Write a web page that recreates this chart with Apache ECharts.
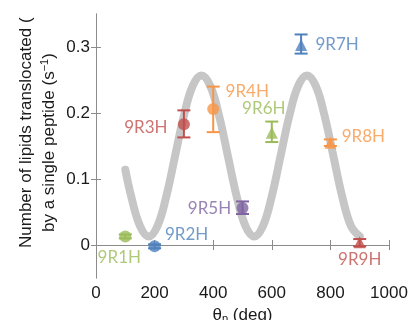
<!DOCTYPE html>
<html>
<head>
<meta charset="utf-8">
<script src="https://cdn.jsdelivr.net/npm/echarts@6/dist/echarts.min.js"></script>
<style>
  html, body { margin: 0; padding: 0; background: #fff; }
  #main { width: 411px; height: 320px; }
</style>
</head>
<body>
<div id="main"></div>
<script>
// peptides, their theta_p and rates
const peptides = ['9R1H', '9R2H', '9R3H', '9R4H', '9R5H', '9R6H', '9R7H', '9R8H', '9R9H'];
const thetaP = [100, 200, 300, 400, 500, 600, 700, 800, 900];
const rates = [0.013, -0.002, 0.183, 0.206, 0.056, 0.170, 0.303, 0.155, 0.004];
const errLow = [0.010, -0.005, 0.163, 0.171, 0.047, 0.156, 0.290, 0.150, -0.002];
const errHigh = [0.016, 0.001, 0.204, 0.240, 0.066, 0.187, 0.319, 0.160, 0.009];
const shapes = ['circle', 'circle', 'circle', 'circle', 'circle', 'triangle', 'triangle', 'triangle', 'triangle'];
const colors = ['#9bbb59', '#4f81bd', '#c0504d', '#f79646', '#8064a2', '#9bbb59', '#4f81bd', '#f79646', '#c0504d'];
// label offsets from the marker (px)
const labelOffsets = [[-6, 21], [32, -12], [-38, 3], [34, -18], [-33, 0], [-8, -24], [36, -1], [33, -6], [0, 17]];

// grey guide curve
const curveTheta = [100, 120, 150, 180, 210, 240, 270, 300, 330, 360, 390, 420, 450, 480, 510, 540,
  570, 600, 630, 660, 690, 720, 750, 780, 810, 840, 870, 900];
const curveRate = [0.114, 0.074, 0.029, 0.013, 0.029, 0.074, 0.135, 0.196, 0.241, 0.257, 0.241, 0.196, 0.135, 0.074, 0.029, 0.013,
  0.029, 0.074, 0.135, 0.196, 0.241, 0.257, 0.241, 0.196, 0.135, 0.074, 0.029, 0.013];

const yTicks = [0, 0.1, 0.2, 0.3];

const myChart = echarts.init(document.getElementById('main'));

const frameLine = { show: true, lineStyle: { color: '#8c8c8c', width: 1 } };
const tickStyle = { show: true, inside: true, length: 5, lineStyle: { color: '#8c8c8c' } };

myChart.setOption({
  animation: false,
  grid: { left: 96, right: 22, top: 14, bottom: 42, outerBoundsMode: 'none', containLabel: false },
  xAxis: [
    {
      type: 'value', min: 0, max: 1000, interval: 200,
      axisLine: frameLine, axisTick: tickStyle, splitLine: { show: false },
      axisLabel: { fontFamily: 'Liberation Sans', fontSize: 17, color: '#1a1a1a', margin: 7, formatter: v => String(v) },
      name: '{t|θ}{s|p}{t| (deg)}', nameLocation: 'middle', nameGap: 22,
      nameTextStyle: {
        rich: {
          t: { fontFamily: 'Liberation Sans', fontSize: 17, color: '#1a1a1a' },
          s: { fontFamily: 'Liberation Sans', fontSize: 11, color: '#1a1a1a', verticalAlign: 'bottom', padding: [8, 0, 0, 0] }
        }
      }
    },
    {
      type: 'value', position: 'top', min: 0, max: 1000, interval: 200,
      axisLine: frameLine, axisTick: tickStyle, axisLabel: { show: false }, splitLine: { show: false }
    }
  ],
  yAxis: [
    {
      type: 'value', min: -0.05, max: 0.35,
      axisLine: frameLine, splitLine: { show: false },
      axisTick: Object.assign({ customValues: yTicks }, tickStyle),
      axisLabel: { customValues: yTicks, fontFamily: 'Liberation Sans', fontSize: 17, color: '#1a1a1a', margin: 6 }
    },
    {
      type: 'value', position: 'right', min: -0.05, max: 0.35,
      axisLine: frameLine, splitLine: { show: false },
      axisTick: Object.assign({ customValues: yTicks }, tickStyle),
      axisLabel: { show: false }
    }
  ],
  graphic: [
    {
      type: 'text', x: 26, y: 248, rotation: Math.PI / 2,
      style: {
        text: 'Number of lipids translocated (', fontFamily: 'Liberation Sans', fontSize: 17,
        fill: '#1a1a1a', align: 'left', verticalAlign: 'middle'
      }
    },
    {
      type: 'text', x: 49, y: 232, rotation: Math.PI / 2,
      style: {
        text: '{a|by a single peptide (s}{b|−1}{a|)}', align: 'left', verticalAlign: 'middle',
        rich: {
          a: { fontFamily: 'Liberation Sans', fontSize: 17, fill: '#1a1a1a' },
          b: { fontFamily: 'Liberation Sans', fontSize: 11, fill: '#1a1a1a', padding: [0, 0, 8, 0] }
        }
      }
    }
  ],
  series: [
    {
      type: 'line', smooth: 0.4, showSymbol: false, silent: true, z: 1,
      data: curveTheta.map((t, i) => [t, curveRate[i]]),
      lineStyle: { color: '#c6c6c6', width: 8, cap: 'round' }
    },
    {
      type: 'custom', z: 3,
      data: thetaP.map((t, i) => [t, errLow[i], errHigh[i], i]),
      renderItem: function (params, api) {
        const x = api.value(0);
        const lo = api.coord([x, api.value(1)]);
        const hi = api.coord([x, api.value(2)]);
        const c = colors[api.value(3)];
        const hw = 6.5;
        const st = { stroke: c, lineWidth: 2 };
        return {
          type: 'group',
          children: [
            { type: 'line', shape: { x1: lo[0], y1: lo[1], x2: hi[0], y2: hi[1] }, style: st },
            { type: 'line', shape: { x1: lo[0] - hw, y1: lo[1], x2: lo[0] + hw, y2: lo[1] }, style: st },
            { type: 'line', shape: { x1: hi[0] - hw, y1: hi[1], x2: hi[0] + hw, y2: hi[1] }, style: st }
          ]
        };
      }
    },
    {
      type: 'scatter', z: 4,
      data: thetaP.map((t, i) => ({
        value: [t, rates[i]],
        symbol: shapes[i],
        symbolSize: 12,
        itemStyle: { color: colors[i] },
        label: {
          show: true, formatter: peptides[i], position: 'inside', offset: labelOffsets[i],
          color: colors[i], fontFamily: 'Lato', fontSize: 17
        }
      }))
    }
  ]
});
</script>
</body>
</html>
